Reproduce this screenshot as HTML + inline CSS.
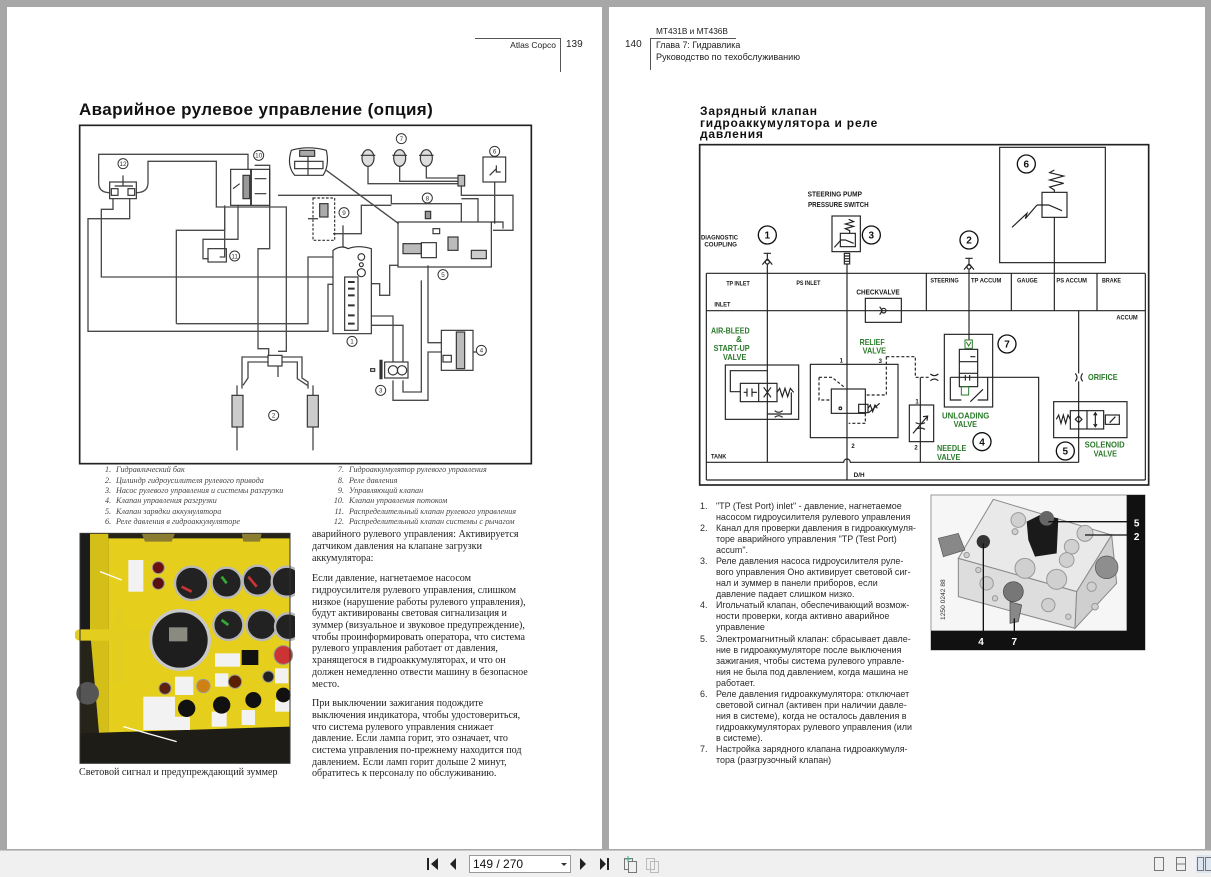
<!DOCTYPE html>
<html><head><meta charset="utf-8">
<style>
*{margin:0;padding:0;box-sizing:border-box}
html,body{width:1211px;height:877px;overflow:hidden;background:#a7a7a7;position:relative;font-family:"Liberation Sans",sans-serif;color:#222}
.pg{position:absolute;background:#fff;top:7px;height:842px}
.t{position:absolute;white-space:nowrap}
.b{font-family:"Liberation Serif",serif;font-size:10.1px;line-height:12px;color:#1e1e1e}
.r{font-family:"Liberation Sans",sans-serif;font-size:8.95px;line-height:11px;color:#2a2a2a}
.lg{font-family:"Liberation Serif",serif;font-style:italic;font-size:8.15px;line-height:10px;color:#444}
</style></head><body>
<div class="pg" style="left:7px;width:595px"></div>
<div class="pg" style="left:609px;width:596px"></div>

<!-- headers -->
<div style="position:absolute;left:475px;top:38px;width:85px;height:1px;background:#555"></div>
<div style="position:absolute;left:560px;top:38px;width:1px;height:34px;background:#555"></div>
<div class="t" style="left:480px;width:76px;text-align:right;top:39px;font-size:8.5px;line-height:12px">Atlas Copco</div>
<div class="t" style="left:566px;top:39px;font-size:10px;line-height:12px">139</div>

<div class="t" style="left:656px;top:25px;font-size:8.3px;line-height:12px">MT431B и MT436B</div>
<div style="position:absolute;left:650px;top:38px;width:86px;height:1px;background:#555"></div>
<div style="position:absolute;left:650px;top:38px;width:1px;height:32px;background:#555"></div>
<div class="t" style="left:625px;top:39px;font-size:10px;line-height:12px">140</div>
<div class="t" style="left:656px;top:39px;font-size:8.9px;line-height:12px">Глава 7: Гидравлика</div>
<div class="t" style="left:656px;top:51px;font-size:9.1px;line-height:12px">Руководство по техобслуживанию</div>

<!-- titles -->
<div class="t" style="left:79px;top:100px;font-size:17px;line-height:20px;font-weight:bold;letter-spacing:0.4px;color:#111">Аварийное рулевое управление (опция)</div>
<div class="t" style="left:700px;top:106px;font-size:12px;line-height:11.7px;font-weight:bold;letter-spacing:0.8px;color:#111">Зарядный клапан<br>гидроаккумулятора и реле<br>давления</div>

<!-- LEFT DIAGRAM -->
<svg style="position:absolute;left:78px;top:122px" width="455" height="345" viewBox="0 0 1365 1035">
<rect x="5" y="10" width="1355" height="1015" fill="#fff" stroke="#222" stroke-width="5"/>
<g fill="none" stroke="#4a4a4a" stroke-width="4">
<path d="M62,182 V97 H510 V142"/>
<path d="M62,182 Q62,212 95,212"/>
<path d="M175,212 Q210,212 210,182 V118 H415 V255 H625 V688 H600"/>
<path d="M105,230 V262 H70 V465 H765"/>
<path d="M155,230 V290 H30 V628 H750 V487 H810"/>
<path d="M295,605 V325 H440 V250"/>
<path d="M295,605 H690 V405 H845"/>
<path d="M440,255 V405 H425"/>
<path d="M480,250 V352 H375 V410 H392"/>
<path d="M530,130 H575 V380 H540 V680 H572 V700"/>
<path d="M600,220 H940 V245 H1150 V300"/>
<path d="M745,145 L962,305"/>
<path d="M690,290 H720"/>
<path d="M765,335 H850 V250 H940"/>
<path d="M795,310 V380"/>
<path d="M870,130 V185 H1140 M965,130 V178 H1140 M1045,130 V168 H1140"/>
<path d="M1150,190 V220 H1305 V325 H1245"/>
<path d="M1250,180 V305"/>
<path d="M1150,230 H1200 V300"/>
<path d="M840,485 H905 V520 H935 V430 H960"/>
<path d="M1050,430 V662 H1090"/>
<path d="M1030,475 V810 H975 V775"/>
<path d="M945,775 V835 H1050 V690 H1090"/>
<path d="M860,582 H945 V720 M860,610 H975 V720"/>
<path d="M572,705 H492 V800 M572,720 H510 V768 L495,790 M612,705 H672 V768 L690,780 V800 M612,720 H658 V770 L688,790"/>
<path d="M600,732 V765"/>
<path d="M1185,690 H1200"/>
</g>
<g fill="none" stroke="#333" stroke-width="3.5">
<rect x="95" y="180" width="80" height="50"/>
<rect x="100" y="200" width="20" height="20"/><rect x="150" y="200" width="20" height="20"/>
<path d="M110,192 H165 M135,160 V192"/>
<rect x="458" y="142" width="60" height="108"/><rect x="520" y="142" width="55" height="108"/>
<rect x="495" y="160" width="20" height="70" fill="#999"/>
<path d="M465,200 L485,185 M530,170 H565 M530,215 H565"/>
<rect x="390" y="380" width="55" height="40"/>
<path d="M640,85 Q625,130 650,160 H735 Q755,130 745,85 Q690,70 640,85 Z"/>
<rect x="665" y="85" width="45" height="18" fill="#aaa"/><rect x="650" y="118" width="85" height="22"/>
<path d="M690,103 V160"/>
<g fill="#ddd">
<ellipse cx="870" cy="108" rx="18" ry="25"/><ellipse cx="965" cy="108" rx="18" ry="25"/><ellipse cx="1045" cy="108" rx="18" ry="25"/>
</g>
<path d="M848,100 H892 M943,100 H987 M1023,100 H1067"/>
<rect x="1140" y="160" width="20" height="32" fill="#bbb"/>
<rect x="1215" y="105" width="68" height="75"/>
<path d="M1235,160 L1255,140 M1255,130 V150 H1268"/>
<rect x="705" y="228" width="65" height="127" stroke-dasharray="8,5"/>
<rect x="725" y="245" width="25" height="40" fill="#aaa"/>
<rect x="960" y="300" width="280" height="135"/>
<rect x="975" y="365" width="55" height="30" fill="#bbb"/><rect x="1030" y="362" width="45" height="45"/>
<rect x="1110" y="345" width="30" height="40" fill="#bbb"/><rect x="1180" y="385" width="45" height="25" fill="#ccc"/>
<rect x="1065" y="320" width="20" height="15"/><rect x="1042" y="268" width="16" height="22" fill="#999"/>
<path d="M1240,300 H1275 V320"/>
<path d="M765,385 Q790,368 810,380 Q840,368 880,380 V635 H765 Z" fill="#fff"/>
<rect x="800" y="465" width="40" height="160"/>
<circle cx="850" cy="405" r="10"/><circle cx="850" cy="428" r="6"/><circle cx="850" cy="452" r="12"/>
<path d="M810,480 h20 M810,500 h20 M810,520 h20 M810,550 h20 M810,580 h20 M810,605 h20" stroke-width="6"/>
<rect x="1090" y="625" width="95" height="120"/><rect x="1135" y="630" width="25" height="110" fill="#bbb"/>
<rect x="1095" y="700" width="25" height="20"/>
<rect x="920" y="720" width="70" height="48"/>
<circle cx="945" cy="745" r="14"/><circle cx="972" cy="745" r="14"/>
<rect x="906" y="715" width="6" height="55" fill="#333"/><rect x="878" y="740" width="12" height="8"/>
<rect x="570" y="700" width="42" height="32"/>
<rect x="462" y="820" width="33" height="95" fill="#ccc"/><rect x="688" y="820" width="33" height="95" fill="#ccc"/>
<path d="M477,790 V820 M477,915 V985 M705,790 V820 M705,915 V985"/>
</g>
<g fill="#fff" stroke="#333" stroke-width="3">
<circle cx="135" cy="125" r="15"/><circle cx="542" cy="100" r="15"/><circle cx="470" cy="402" r="15"/>
<circle cx="970" cy="50" r="15"/><circle cx="1250" cy="88" r="15"/><circle cx="1048" cy="228" r="15"/>
<circle cx="798" cy="272" r="15"/><circle cx="1095" cy="458" r="15"/><circle cx="822" cy="658" r="15"/>
<circle cx="1210" cy="685" r="15"/><circle cx="908" cy="805" r="15"/><circle cx="587" cy="880" r="15"/>
</g>
<g font-family="Liberation Sans,sans-serif" font-size="19" fill="#333" text-anchor="middle">
<text x="135" y="132">12</text><text x="542" y="107">10</text><text x="470" y="409">11</text>
<text x="970" y="57">7</text><text x="1250" y="95">6</text><text x="1048" y="235">8</text>
<text x="798" y="279">9</text><text x="1095" y="465">5</text><text x="822" y="665">1</text>
<text x="1210" y="692">4</text><text x="908" y="812">3</text><text x="587" y="887">2</text>
</g>
</svg>

<!-- legend -->
<div class="t lg" style="left:105px;top:465px">1.</div><div class="t lg" style="left:116px;top:465px">Гидравлический бак</div>
<div class="t lg" style="left:105px;top:475.5px">2.</div><div class="t lg" style="left:116px;top:475.5px">Цилиндр гидроусилителя рулевого привода</div>
<div class="t lg" style="left:105px;top:486px">3.</div><div class="t lg" style="left:116px;top:486px">Насос рулевого управления и системы разгрузки</div>
<div class="t lg" style="left:105px;top:496px">4.</div><div class="t lg" style="left:116px;top:496px">Клапан управления разгрузки</div>
<div class="t lg" style="left:105px;top:506.5px">5.</div><div class="t lg" style="left:116px;top:506.5px">Клапан зарядки аккумулятора</div>
<div class="t lg" style="left:105px;top:517px">6.</div><div class="t lg" style="left:116px;top:517px">Реле давления в гидроаккумуляторе</div>
<div class="t lg" style="left:324px;width:20px;text-align:right;top:465px">7.</div><div class="t lg" style="left:349px;top:465px">Гидроаккумулятор рулевого управления</div>
<div class="t lg" style="left:324px;width:20px;text-align:right;top:475.5px">8.</div><div class="t lg" style="left:349px;top:475.5px">Реле давления</div>
<div class="t lg" style="left:324px;width:20px;text-align:right;top:486px">9.</div><div class="t lg" style="left:349px;top:486px">Управляющий клапан</div>
<div class="t lg" style="left:324px;width:20px;text-align:right;top:496px">10.</div><div class="t lg" style="left:349px;top:496px">Клапан управления потоком</div>
<div class="t lg" style="left:324px;width:20px;text-align:right;top:506.5px">11.</div><div class="t lg" style="left:349px;top:506.5px">Распределительный клапан рулевого управления</div>
<div class="t lg" style="left:324px;width:20px;text-align:right;top:517px">12.</div><div class="t lg" style="left:349px;top:517px">Распределительный клапан системы с рычагом</div>

<!-- LEFT PHOTO -->
<svg style="position:absolute;left:75px;top:530px" width="220" height="250" viewBox="0 0 660 750">
<rect x="15" y="10" width="630" height="690" fill="#262418"/>
<polygon points="100,25 645,25 645,595 170,650 100,610" fill="#e6cf1c"/>
<polygon points="45,10 100,10 100,700 80,700 45,300" fill="#d4be18"/>
<rect x="15" y="10" width="30" height="300" fill="#1c1c1c"/>
<polygon points="15,610 645,590 645,700 15,700" fill="#1d1c16"/>
<path d="M15,315 H215" stroke="#e3cd1e" stroke-width="34" stroke-linecap="round"/>
<path d="M135,230 Q130,300 130,460" stroke="#e3cd1e" stroke-width="30" fill="none"/>
<circle cx="38" cy="490" r="34" fill="#555"/>
<polygon points="200,10 300,10 290,35 210,35" fill="#8a7c30"/><polygon points="500,10 560,10 555,35 505,35" fill="#8a7c30"/>
<g stroke="#b8b8b8" stroke-width="7" fill="#222">
<circle cx="350" cy="160" r="50"/><circle cx="455" cy="158" r="45"/><circle cx="548" cy="152" r="45"/><circle cx="635" cy="155" r="45"/>
<circle cx="460" cy="285" r="45"/><circle cx="560" cy="285" r="45"/><circle cx="640" cy="290" r="40"/>
</g>
<circle cx="315" cy="330" r="88" fill="#1e1e1e" stroke="#c8c8c8" stroke-width="10"/>
<rect x="282" y="292" width="55" height="42" fill="#8a8a80"/>
<path d="M320,170 L350,185" stroke="#c33" stroke-width="8"/><path d="M520,140 L545,170" stroke="#c33" stroke-width="8"/>
<path d="M440,140 L455,160" stroke="#3a3" stroke-width="8"/><path d="M440,270 L460,285" stroke="#3a3" stroke-width="8"/>
<g fill="#f2f2f2">
<rect x="160" y="90" width="45" height="95"/><rect x="420" y="370" width="75" height="40"/>
<rect x="300" y="440" width="55" height="55"/><rect x="420" y="430" width="40" height="40"/>
<rect x="205" y="500" width="95" height="100"/><rect x="300" y="560" width="45" height="40"/>
<rect x="410" y="545" width="45" height="45"/><rect x="600" y="415" width="40" height="45"/>
<rect x="600" y="510" width="45" height="35"/><rect x="500" y="540" width="40" height="45"/>
</g>
<g stroke="#999" stroke-width="3">
<circle cx="250" cy="113" r="18" fill="#6a1010"/><circle cx="250" cy="160" r="18" fill="#5a1010"/>
<circle cx="270" cy="475" r="18" fill="#5a2010"/><circle cx="385" cy="468" r="20" fill="#d08010"/>
<circle cx="480" cy="455" r="20" fill="#5a2000"/><circle cx="580" cy="440" r="17" fill="#222"/>
<circle cx="625" cy="375" r="28" fill="#c33"/>
</g>
<g fill="#111"><circle cx="335" cy="535" r="26"/><circle cx="440" cy="525" r="26"/><circle cx="535" cy="510" r="24"/><circle cx="625" cy="495" r="22"/>
<rect x="500" y="360" width="50" height="45"/></g>
<path d="M75,125 L140,150 M145,590 L305,635" stroke="#fff" stroke-width="4"/>
<rect x="15" y="10" width="630" height="690" fill="none" stroke="#333" stroke-width="3"/>
</svg>
<div class="t b" style="left:79px;top:767px">Световой сигнал и предупреждающий зуммер</div>

<!-- left body -->
<div class="t b" style="left:312px;top:529px">аварийного рулевого управления: Активируется</div>
<div class="t b" style="left:312px;top:541px">датчиком давления на клапане загрузки</div>
<div class="t b" style="left:312px;top:553px">аккумулятора:</div>
<div class="t b" style="left:312px;top:573px">Если давление, нагнетаемое насосом</div>
<div class="t b" style="left:312px;top:584.5px">гидроусилителя рулевого управления, слишком</div>
<div class="t b" style="left:312px;top:596.5px">низкое (нарушение работы рулевого управления),</div>
<div class="t b" style="left:312px;top:608px">будут активированы световая сигнализация и</div>
<div class="t b" style="left:312px;top:620px">зуммер (визуальное и звуковое предупреждение),</div>
<div class="t b" style="left:312px;top:632px">чтобы проинформировать оператора, что система</div>
<div class="t b" style="left:312px;top:643px">рулевого управления работает от давления,</div>
<div class="t b" style="left:312px;top:655px">хранящегося в гидроаккумуляторах, и что он</div>
<div class="t b" style="left:312px;top:667px">должен немедленно отвести машину в безопасное</div>
<div class="t b" style="left:312px;top:679px">место.</div>
<div class="t b" style="left:312px;top:698px">При выключении зажигания подождите</div>
<div class="t b" style="left:312px;top:710px">выключения индикатора, чтобы удостовериться,</div>
<div class="t b" style="left:312px;top:722px">что система рулевого управления снижает</div>
<div class="t b" style="left:312px;top:733px">давление. Если лампа горит, это означает, что</div>
<div class="t b" style="left:312px;top:745px">система управления по-прежнему находится под</div>
<div class="t b" style="left:312px;top:757px">давлением. Если ламп горит дольше 2 минут,</div>
<div class="t b" style="left:312px;top:768px">обратитесь к персоналу по обслуживанию.</div>

<!-- RIGHT DIAGRAM -->
<svg style="position:absolute;left:697px;top:140px" width="455" height="350" viewBox="0 0 1365 1050">
<rect x="8" y="14" width="1347" height="1021" fill="#fff" stroke="#222" stroke-width="5"/>
<g fill="none" stroke="#222" stroke-width="3.5">
<rect x="908" y="22" width="317" height="346"/>
<path d="M28,400 H1345 M28,400 V1020 M1345,400 V1020 M28,512 H1345 M28,1020 H1345"/>
<path d="M688,400 V512 M943,400 V512 M1200,400 V512 M1072,232 V512"/>
<path d="M28,967 H440 A10,10 0 0 1 460,967 H1145"/>
<path d="M211,372 V967 M450,372 V1020 M816,389 V600 M670,712 V967 M760,712 H1025 V967 M1145,512 V700 M1145,724 V967"/>
<path d="M1135,700 Q1145,712 1135,724 M1157,700 Q1147,712 1157,724"/>
<path d="M1072,90 L1058,98 L1100,108 L1058,120 L1100,130 L1058,141 L1072,150 V157"/>
<rect x="1035" y="157" width="75" height="75"/>
<path d="M1020,195 H1055 L1095,212"/>
<path d="M945,262 L990,220 L985,236 L1020,195"/>
<path d="M200,340 H222 M211,340 V354 M196,374 L211,356 L226,374"/>
<circle cx="211" cy="366" r="6"/>
<path d="M805,355 H827 M816,355 V369 M801,389 L816,371 L831,389"/>
<circle cx="816" cy="381" r="6"/>
<rect x="405" y="228" width="85" height="107"/>
<path d="M455,238 L470,245 L445,252 L470,259 L445,266 L458,272 V280"/>
<rect x="430" y="280" width="45" height="40"/>
<path d="M412,322 L432,300 H445 L470,310"/>
<rect x="442" y="340" width="16" height="32"/>
<path d="M442,348 H458 M442,356 H458 M442,364 H458"/>
<rect x="505" y="475" width="108" height="72"/>
<circle cx="560" cy="512" r="7"/><path d="M548,500 L556,512 L548,524"/>
<rect x="85" y="675" width="220" height="163"/>
<rect x="130" y="730" width="110" height="55"/>
<path d="M185,730 V785 M211,692 H100 V755 H130"/>
<path d="M150,745 V770 M165,745 V770 M140,757 H150 M165,757 H180"/>
<path d="M200,742 L222,772 M200,772 L222,742"/>
<path d="M240,757 L248,745 L256,770 L264,745 L272,770 L280,745 L290,757"/>
<path d="M283,757 V822 H211"/>
<path d="M233,812 Q245,822 257,812 M233,832 Q245,822 257,832"/>
<rect x="340" y="673" width="263" height="220"/>
<rect x="403" y="747" width="102" height="73"/>
<circle cx="430" cy="805" r="4"/>
<rect x="485" y="793" width="28" height="25"/>
<path d="M513,805 L520,795 L527,815 L534,795 L541,805 M515,818 L548,790"/>
<g stroke-dasharray="9,6">
<path d="M568,650 V765 H505 M366,712 V780 H403 M366,712 H405 L440,740 M505,820 V850 H455 M568,650 H655 V712 H700"/>
</g>
<path d="M700,702 Q712,712 724,702 M700,722 Q712,712 724,722"/>
<rect x="637" y="795" width="73" height="110"/>
<path d="M648,880 L692,828 M678,830 L692,828 L690,842 M656,848 Q670,856 684,848 M656,868 Q670,860 684,868"/>
<rect x="742" y="583" width="145" height="218"/>
<rect x="787" y="628" width="55" height="112"/>
<path d="M787,665 H842 M787,700 H842 M820,650 H835 M805,705 V722 M818,705 V722"/>
<path d="M760,712 V780 H793 M872,712 V780 H842 M820,785 L858,748"/>
<rect x="1070" y="785" width="220" height="108"/>
<path d="M1078,838 L1085,825 L1092,850 L1099,825 L1106,850 L1113,825 L1120,838"/>
<rect x="1120" y="812" width="100" height="55"/>
<path d="M1170,812 V867 M1135,838 L1145,828 L1155,838 L1145,848 Z"/>
<path d="M1195,820 V860 M1190,826 L1195,818 L1200,826 M1190,852 L1195,860 L1200,852"/>
<rect x="1225" y="825" width="42" height="28"/>
<path d="M1238,848 L1255,830"/>
</g>
<g fill="none" stroke="#2a7a2a" stroke-width="3">
<rect x="804" y="600" width="22" height="25"/><path d="M808,606 L815,618 L822,606"/>
<rect x="793" y="740" width="22" height="25"/>
</g>
<g fill="#fff" stroke="#111" stroke-width="4">
<circle cx="211" cy="285" r="27"/><circle cx="523" cy="285" r="27"/><circle cx="816" cy="300" r="27"/>
<circle cx="988" cy="72" r="27"/><circle cx="930" cy="612" r="27"/><circle cx="855" cy="905" r="27"/><circle cx="1105" cy="933" r="27"/>
</g>
<g font-family="Liberation Sans,sans-serif" font-weight="bold" font-size="30" fill="#111" text-anchor="middle">
<text x="211" y="296">1</text><text x="523" y="296">3</text><text x="816" y="311">2</text>
<text x="988" y="83">6</text><text x="930" y="623">7</text><text x="855" y="916">4</text><text x="1105" y="944">5</text>
</g>
<g font-family="Liberation Sans,sans-serif" font-weight="bold" fill="#1a1a1a">
<text x="332" y="170" font-size="23" textLength="163" lengthAdjust="spacingAndGlyphs">STEERING PUMP</text>
<text x="333" y="201" font-size="23" textLength="182" lengthAdjust="spacingAndGlyphs">PRESSURE SWITCH</text>
<text x="12" y="299" font-size="19" textLength="111" lengthAdjust="spacingAndGlyphs">DIAGNOSTIC</text>
<text x="22" y="320" font-size="19" textLength="98" lengthAdjust="spacingAndGlyphs">COUPLING</text>
<text x="88" y="436" font-size="20" textLength="70" lengthAdjust="spacingAndGlyphs">TP INLET</text>
<text x="298" y="435" font-size="20" textLength="72" lengthAdjust="spacingAndGlyphs">PS INLET</text>
<text x="700" y="428" font-size="20" textLength="85" lengthAdjust="spacingAndGlyphs">STEERING</text>
<text x="822" y="428" font-size="20" textLength="91" lengthAdjust="spacingAndGlyphs">TP ACCUM</text>
<text x="960" y="428" font-size="20" textLength="62" lengthAdjust="spacingAndGlyphs">GAUGE</text>
<text x="1078" y="428" font-size="20" textLength="92" lengthAdjust="spacingAndGlyphs">PS ACCUM</text>
<text x="1215" y="428" font-size="20" textLength="57" lengthAdjust="spacingAndGlyphs">BRAKE</text>
<text x="478" y="464" font-size="22" textLength="130" lengthAdjust="spacingAndGlyphs">CHECKVALVE</text>
<text x="52" y="500" font-size="19" textLength="48" lengthAdjust="spacingAndGlyphs">INLET</text>
<text x="1258" y="538" font-size="19" textLength="64" lengthAdjust="spacingAndGlyphs">ACCUM</text>
<text x="42" y="956" font-size="19" textLength="46" lengthAdjust="spacingAndGlyphs">TANK</text>
<text x="470" y="1011" font-size="19" textLength="33" lengthAdjust="spacingAndGlyphs">D/H</text>
<text x="428" y="667" font-size="18">1</text><text x="545" y="669" font-size="18">3</text>
<text x="463" y="924" font-size="18">2</text><text x="655" y="790" font-size="18">1</text><text x="652" y="929" font-size="18">2</text>
</g>
<g font-family="Liberation Sans,sans-serif" font-weight="bold" fill="#2a7a2a" font-size="25">
<text x="42" y="580" textLength="116" lengthAdjust="spacingAndGlyphs">AIR-BLEED</text>
<text x="117" y="606">&amp;</text>
<text x="50" y="633" textLength="108" lengthAdjust="spacingAndGlyphs">START-UP</text>
<text x="78" y="660" textLength="70" lengthAdjust="spacingAndGlyphs">VALVE</text>
<text x="488" y="615" textLength="75" lengthAdjust="spacingAndGlyphs">RELIEF</text>
<text x="497" y="641" textLength="70" lengthAdjust="spacingAndGlyphs">VALVE</text>
<text x="1173" y="720" textLength="89" lengthAdjust="spacingAndGlyphs">ORIFICE</text>
<text x="735" y="835" textLength="142" lengthAdjust="spacingAndGlyphs">UNLOADING</text>
<text x="770" y="861" textLength="70" lengthAdjust="spacingAndGlyphs">VALVE</text>
<text x="720" y="933" textLength="88" lengthAdjust="spacingAndGlyphs">NEEDLE</text>
<text x="720" y="960" textLength="70" lengthAdjust="spacingAndGlyphs">VALVE</text>
<text x="1163" y="923" textLength="120" lengthAdjust="spacingAndGlyphs">SOLENOID</text>
<text x="1190" y="950" textLength="70" lengthAdjust="spacingAndGlyphs">VALVE</text>
</g>
</svg>

<!-- right list -->
<div class="t r" style="left:700px;top:501px">1.</div><div class="t r" style="left:716px;top:501px">"TP (Test Port) inlet" - давление, нагнетаемое</div>
<div class="t r" style="left:716px;top:512px">насосом гидроусилителя рулевого управления</div>
<div class="t r" style="left:700px;top:523px">2.</div><div class="t r" style="left:716px;top:523px">Канал для проверки давления в гидроаккумуля-</div>
<div class="t r" style="left:716px;top:534px">торе аварийного управления "TP (Test Port)</div>
<div class="t r" style="left:716px;top:545px">accum".</div>
<div class="t r" style="left:700px;top:556px">3.</div><div class="t r" style="left:716px;top:556px">Реле давления насоса гидроусилителя руле-</div>
<div class="t r" style="left:716px;top:567px">вого управления Оно активирует световой сиг-</div>
<div class="t r" style="left:716px;top:578px">нал и зуммер в панели приборов, если</div>
<div class="t r" style="left:716px;top:589px">давление падает слишком низко.</div>
<div class="t r" style="left:700px;top:600px">4.</div><div class="t r" style="left:716px;top:600px">Игольчатый клапан, обеспечивающий возмож-</div>
<div class="t r" style="left:716px;top:611px">ности проверки, когда активно аварийное</div>
<div class="t r" style="left:716px;top:622px">управление</div>
<div class="t r" style="left:700px;top:634px">5.</div><div class="t r" style="left:716px;top:634px">Электромагнитный клапан: сбрасывает давле-</div>
<div class="t r" style="left:716px;top:645px">ние в гидроаккумуляторе после выключения</div>
<div class="t r" style="left:716px;top:656px">зажигания, чтобы система рулевого управле-</div>
<div class="t r" style="left:716px;top:667px">ния не была под давлением, когда машина не</div>
<div class="t r" style="left:716px;top:678px">работает.</div>
<div class="t r" style="left:700px;top:689px">6.</div><div class="t r" style="left:716px;top:689px">Реле давления гидроаккумулятора: отключает</div>
<div class="t r" style="left:716px;top:700px">световой сигнал (активен при наличии давле-</div>
<div class="t r" style="left:716px;top:711px">ния в системе), когда не осталось давления в</div>
<div class="t r" style="left:716px;top:722px">гидроаккумуляторах рулевого управления (или</div>
<div class="t r" style="left:716px;top:733px">в системе).</div>
<div class="t r" style="left:700px;top:744px">7.</div><div class="t r" style="left:716px;top:744px">Настройка зарядного клапана гидроаккумуля-</div>
<div class="t r" style="left:716px;top:755px">тора (разгрузочный клапан)</div>

<!-- RIGHT PHOTO -->
<svg style="position:absolute;left:925px;top:490px" width="230" height="165" viewBox="0 0 690 495">
<rect x="18" y="15" width="642" height="465" fill="#f6f6f6" stroke="#999" stroke-width="3"/>
<polygon points="100,205 205,28 560,135 455,305" fill="#e9e9e9" stroke="#888" stroke-width="3"/>
<polygon points="100,205 455,305 450,415 100,320" fill="#dddddd" stroke="#888" stroke-width="3"/>
<polygon points="455,305 560,135 575,280 450,415" fill="#cfcfcf" stroke="#888" stroke-width="3"/>
<g fill="#d0d0d0" stroke="#999" stroke-width="3">
<circle cx="280" cy="90" r="22"/><circle cx="270" cy="125" r="9"/><circle cx="480" cy="130" r="24"/>
<circle cx="440" cy="170" r="22"/><circle cx="425" cy="210" r="22"/><circle cx="300" cy="235" r="30"/>
<circle cx="395" cy="268" r="30"/><circle cx="185" cy="280" r="20"/><circle cx="370" cy="345" r="20"/>
<circle cx="160" cy="240" r="8"/><circle cx="210" cy="325" r="8"/><circle cx="125" cy="195" r="8"/>
<circle cx="500" cy="290" r="14"/><circle cx="510" cy="350" r="10"/><circle cx="430" cy="380" r="8"/>
</g>
<polygon points="40,145 100,130 120,180 55,200" fill="#888" stroke="#555" stroke-width="2"/>
<circle cx="545" cy="232" r="34" fill="#8e8e8e" stroke="#555" stroke-width="2"/>
<polygon points="305,95 345,75 400,85 395,190 330,200 310,150" fill="#1a1a1a"/>
<circle cx="365" cy="85" r="22" fill="#666"/>
<circle cx="175" cy="155" r="20" fill="#333"/>
<circle cx="265" cy="305" r="30" fill="#777" stroke="#444" stroke-width="2"/>
<polygon points="255,335 290,345 280,395 255,400" fill="#888" stroke="#444" stroke-width="2"/>
<rect x="605" y="15" width="55" height="465" fill="#111"/>
<rect x="18" y="422" width="642" height="58" fill="#111"/>
<path d="M370,95 H615 M480,135 H615 M175,160 V430 M268,385 V430" stroke="#111" stroke-width="4" fill="none"/>
<g font-family="Liberation Sans,sans-serif" font-weight="bold" font-size="30" fill="#fff" text-anchor="middle">
<text x="635" y="110">5</text><text x="635" y="150">2</text><text x="168" y="465">4</text><text x="268" y="465">7</text>
</g>
<text x="60" y="390" transform="rotate(-90 60 390)" font-family="Liberation Sans,sans-serif" font-size="20" fill="#333">1250 0242 88</text>
</svg>

<!-- bottom toolbar -->
<div style="position:absolute;left:0;top:850px;width:1211px;height:27px;background:#f0f0f0;border-top:1px solid #c8c8c8"></div>
<svg style="position:absolute;left:0;top:851px" width="1211" height="26">
<g fill="#222">
<rect x="427" y="7" width="2" height="12"/><polygon points="438,7 431,13 438,19"/>
<polygon points="456,7 450,13 456,19"/>
<polygon points="580,7 586,13 580,19"/>
<polygon points="600,7 606,13 600,19"/><rect x="607" y="7" width="2" height="12"/>
</g>
<rect x="469.5" y="4.5" width="101" height="17" fill="#fff" stroke="#9a9a9a"/>
<text x="473" y="17" font-family="Liberation Sans,sans-serif" font-size="12" fill="#111">149 / 270</text>
<polygon points="561,12 567,12 564,15" fill="#333"/>
<g fill="none" stroke="#777">
<rect x="624.5" y="7.5" width="8" height="11"/><rect x="628.5" y="10.5" width="8" height="11" fill="#f0f0f0"/>
<path d="M628,5 V11 M625,8 H631" stroke="#4a8"/>
<rect x="646.5" y="7.5" width="8" height="11" stroke="#bbb"/><rect x="650.5" y="10.5" width="8" height="11" stroke="#bbb"/>
<rect x="1154.5" y="6.5" width="9" height="13"/>
<rect x="1176.5" y="6.5" width="9" height="13"/><path d="M1176,13 H1186"/>
<rect x="1196" y="4" width="15" height="18" fill="#dde6f0" stroke="none"/>
<rect x="1197.5" y="6.5" width="6" height="13"/><rect x="1205.5" y="6.5" width="6" height="13"/>
</g>
</svg>
</body></html>
